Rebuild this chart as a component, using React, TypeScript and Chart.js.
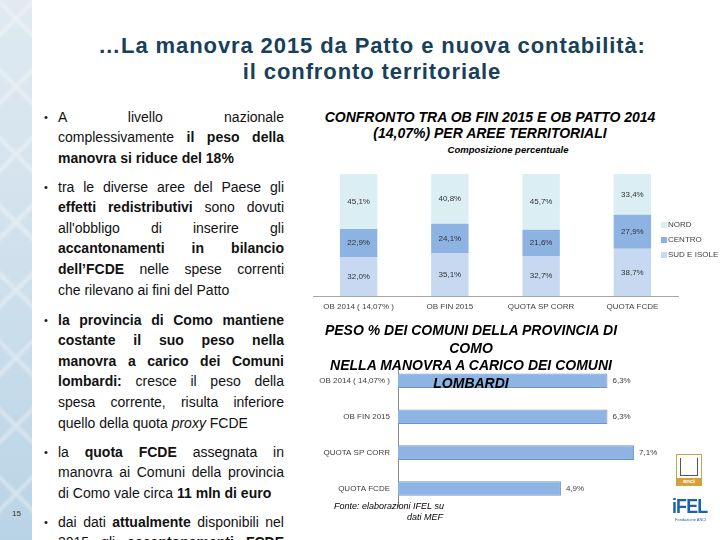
import React, { useEffect, useRef } from "react";
import { Chart, registerables } from "chart.js";

Chart.register(...registerables);

// ---------- data ----------
const areaCategories = ["OB 2014 ( 14,07% )", "OB FIN 2015", "QUOTA SP CORR", "QUOTA FCDE"];
const seriesNames = ["NORD", "CENTRO", "SUD E ISOLE"];
const nordValues = [45.1, 40.8, 45.7, 33.4];
const centroValues = [22.9, 24.1, 21.6, 27.9];
const sudValues = [32.0, 35.1, 32.7, 38.7];

const comoCategories = ["OB 2014 ( 14,07% )", "OB FIN 2015", "QUOTA SP CORR", "QUOTA FCDE"];
const comoValues = [6.3, 6.3, 7.1, 4.9];

const seriesColors = ["#dbeef4", "#8db3e2", "#c6d9f1"];
const FONT = "'Liberation Sans', Arial, sans-serif";

const fmt = (v: number) => v.toFixed(1).replace(".", ",") + "%";

// ---------- plugins ----------
const stackLabels = {
  id: "stackLabels",
  afterDatasetsDraw(chart: any) {
    const ctx = chart.ctx;
    ctx.save();
    ctx.font = "8px " + FONT;
    ctx.fillStyle = "#333333";
    ctx.textAlign = "center";
    ctx.textBaseline = "middle";
    chart.data.datasets.forEach((ds: any, i: number) => {
      const meta = chart.getDatasetMeta(i);
      meta.data.forEach((bar: any, j: number) => {
        const p = bar.getProps(["x", "y", "base"], true);
        ctx.fillText(fmt(ds.data[j]), p.x, (p.y + p.base) / 2);
      });
    });
    ctx.restore();
  },
};

const sideLegend = {
  id: "sideLegend",
  afterDraw(chart: any) {
    const ctx = chart.ctx;
    const area = chart.chartArea;
    const ds = chart.data.datasets.slice().reverse();
    const x0 = area.right - 17;
    const mid = (area.top + area.bottom) / 2 + 5;
    const step = 15;
    ctx.save();
    ctx.font = "8px " + FONT;
    ctx.textBaseline = "middle";
    ctx.textAlign = "left";
    ds.forEach((d: any, i: number) => {
      const y = mid + (i - 1) * step;
      ctx.fillStyle = d.backgroundColor;
      ctx.fillRect(x0, y - 3, 6, 6);
      ctx.fillStyle = "#404040";
      ctx.fillText(d.label, x0 + 7, y);
    });
    ctx.restore();
  },
};

const endLabels = {
  id: "endLabels",
  afterDatasetsDraw(chart: any) {
    const ctx = chart.ctx;
    ctx.save();
    ctx.font = "8px " + FONT;
    ctx.fillStyle = "#404040";
    ctx.textAlign = "left";
    ctx.textBaseline = "middle";
    chart.data.datasets.forEach((ds: any, i: number) => {
      chart.getDatasetMeta(i).data.forEach((bar: any, j: number) => {
        const p = bar.getProps(["x", "y"], true);
        ctx.fillText(fmt(ds.data[j]), p.x + 5, p.y);
      });
    });
    ctx.restore();
  },
};

// ---------- charts ----------
function AreaChart() {
  const ref = useRef<HTMLCanvasElement>(null);
  useEffect(() => {
    const chart = new Chart(ref.current as HTMLCanvasElement, {
      type: "bar",
      data: {
        labels: areaCategories,
        datasets: [
          { label: seriesNames[2], data: sudValues, backgroundColor: seriesColors[2] },
          { label: seriesNames[1], data: centroValues, backgroundColor: seriesColors[1] },
          { label: seriesNames[0], data: nordValues, backgroundColor: seriesColors[0] },
        ],
      },
      options: {
        responsive: false,
        animation: false,
        layout: { padding: { left: 13, right: 42, top: 14, bottom: 0 } },
        datasets: { bar: { categoryPercentage: 1, barPercentage: 0.41 } },
        plugins: { legend: { display: false }, tooltip: { enabled: false } },
        scales: {
          x: {
            stacked: true,
            grid: { display: false, drawTicks: false },
            border: { display: true, color: "#a6a6a6" },
            ticks: { color: "#404040", font: { size: 8, family: FONT }, padding: 6, maxRotation: 0, autoSkip: false },
            afterFit: (s: any) => { s.height = 24; },
          },
          y: { stacked: true, display: false, min: 0, max: 100 },
        },
      },
      plugins: [stackLabels, sideLegend],
    } as any);
    return () => chart.destroy();
  }, []);
  return <canvas ref={ref} width={420} height={160} style={{ position: "absolute", left: 300, top: 160 }} />;
}

function ComoChart() {
  const ref = useRef<HTMLCanvasElement>(null);
  useEffect(() => {
    const chart = new Chart(ref.current as HTMLCanvasElement, {
      type: "bar",
      data: {
        labels: comoCategories,
        datasets: [
          { label: "Como", data: comoValues, backgroundColor: "#8eb4e3", borderColor: "#6f93c4", borderWidth: 1 },
        ],
      },
      options: {
        indexAxis: "y",
        responsive: false,
        animation: false,
        layout: { padding: { left: 0, right: 56, top: 8.5, bottom: 13.5 } },
        datasets: { bar: { categoryPercentage: 1, barPercentage: 0.405 } },
        plugins: { legend: { display: false }, tooltip: { enabled: false } },
        scales: {
          x: { display: false, min: 0, max: 8 },
          y: {
            grid: { display: false, drawTicks: false },
            border: { display: true, color: "#8c8c8c" },
            ticks: { color: "#404040", font: { size: 8, family: FONT }, padding: 8 },
            afterFit: (s: any) => { s.width = 98; },
          },
        },
      },
      plugins: [endLabels],
    } as any);
    return () => chart.destroy();
  }, []);
  return <canvas ref={ref} width={420} height={170} style={{ position: "absolute", left: 300, top: 350 }} />;
}

// ---------- text helpers ----------
const LH = 20.6;
const lineStyle = (last: boolean): React.CSSProperties => ({
  width: 226,
  height: LH,
  lineHeight: LH + "px",
  textAlign: last ? "left" : "justify",
  textAlignLast: last ? "left" : "justify",
  whiteSpace: "nowrap",
});

function Para({ top, lines, justifyAll }: { top: number; lines: React.ReactNode[]; justifyAll?: boolean }) {
  return (
    <div style={{ position: "absolute", left: 0, top: top - LH / 2, fontFamily: FONT, fontSize: 14, color: "#111" }}>
      <div style={{ position: "absolute", left: 44, top: 0, lineHeight: LH + "px", fontSize: 11 }}>•</div>
      <div style={{ position: "absolute", left: 58, top: 0 }}>
        {lines.map((l, i) => (
          <div key={i} style={lineStyle(!justifyAll && i === lines.length - 1)}>{l}</div>
        ))}
      </div>
    </div>
  );
}

export default function App() {
  return (
    <div style={{ position: "fixed", left: 0, top: 0, width: 720, height: 540, background: "#fff", overflow: "hidden", fontFamily: FONT }}>
      {/* left strip */}
      <div style={{ position: "absolute", left: 0, top: 0, width: 32, height: 540, background: "linear-gradient(to bottom, #dfeaf2 0%, #cfe0ec 50%, #b9d3e6 100%)" }} />
      <div style={{ position: "absolute", left: 0, top: 0, width: 32, height: 540, opacity: 0.4, background: "repeating-linear-gradient(45deg, rgba(255,255,255,0) 0px, rgba(255,255,255,0) 40px, rgba(255,255,255,0.9) 44px, rgba(255,255,255,0) 48px), repeating-linear-gradient(-45deg, rgba(255,255,255,0) 0px, rgba(255,255,255,0) 40px, rgba(255,255,255,0.9) 44px, rgba(255,255,255,0) 48px)" }} />
      <div style={{ position: "absolute", left: 12, top: 509, fontSize: 8, color: "#333" }}>15</div>

      {/* title */}
      <div style={{ position: "absolute", left: 32, width: 680, top: 33, textAlign: "center", color: "#17405a", fontWeight: "bold", fontSize: 22, letterSpacing: 0.9, lineHeight: "26px" }}>
        …La manovra 2015 da Patto e nuova contabilità:<br />il confronto territoriale
      </div>

      {/* left text */}
      <Para top={117} lines={[
        <>A livello nazionale</>,
        <>complessivamente <b>il peso della</b></>,
        <><b>manovra si riduce del 18%</b></>,
      ]} />
      <Para top={187} lines={[
        <>tra le diverse aree del Paese gli</>,
        <><b>effetti redistributivi</b> sono dovuti</>,
        <>all'obbligo di inserire gli</>,
        <><b>accantonamenti in bilancio</b></>,
        <><b>dell’FCDE</b> nelle spese correnti</>,
        <>che rilevano ai fini del Patto</>,
      ]} />
      <Para top={320} lines={[
        <><b>la provincia di Como mantiene</b></>,
        <><b>costante il suo peso nella</b></>,
        <><b>manovra a carico dei Comuni</b></>,
        <><b>lombardi:</b> cresce il peso della</>,
        <>spesa corrente, risulta inferiore</>,
        <>quello della quota <i>proxy</i> FCDE</>,
      ]} />
      <Para top={452} lines={[
        <>la <b>quota FCDE</b> assegnata in</>,
        <>manovra ai Comuni della provincia</>,
        <>di Como vale circa <b>11 mln di euro</b></>,
      ]} />
      <Para top={522} justifyAll lines={[
        <>dai dati <b>attualmente</b> disponibili nel</>,
        <>2015 gli <b>accantonamenti FCDE</b></>,
      ]} />

      {/* top chart titles */}
      <div style={{ position: "absolute", left: 290, width: 400, top: 109, textAlign: "center", fontWeight: "bold", fontStyle: "italic", fontSize: 14, lineHeight: "16px", color: "#000" }}>
        CONFRONTO TRA OB FIN 2015 E OB PATTO 2014<br />(14,07%) PER AREE TERRITORIALI
      </div>
      <div style={{ position: "absolute", left: 408, width: 200, top: 144, textAlign: "center", fontWeight: "bold", fontStyle: "italic", fontSize: 9.5, color: "#000" }}>
        Composizione percentuale
      </div>

      <AreaChart />
      <ComoChart />

      {/* bottom chart title (overlapping) */}
      <div style={{ position: "absolute", left: 281, width: 380, top: 322, textAlign: "center", fontWeight: "bold", fontStyle: "italic", fontSize: 14, lineHeight: "17.7px", color: "#000", zIndex: 2 }}>
        PESO % DEI COMUNI DELLA PROVINCIA DI<br />COMO<br />NELLA MANOVRA A CARICO DEI COMUNI<br />LOMBARDI
      </div>

      {/* source */}
      <div style={{ position: "absolute", left: 334, top: 501, fontStyle: "italic", fontSize: 9, color: "#000" }}>Fonte: elaborazioni IFEL su</div>
      <div style={{ position: "absolute", left: 407, top: 512, fontStyle: "italic", fontSize: 9, color: "#000" }}>dati MEF</div>

      {/* logos */}
      <div style={{ position: "absolute", left: 676, top: 454, width: 24, height: 30, border: "1px solid #c9a44a", background: "#fff" }}>
        <div style={{ position: "absolute", left: 3, top: 3, width: 16, height: 17, border: "1px solid #555", borderTop: "none" }} />
        <div style={{ position: "absolute", left: 0, bottom: 0, width: 24, height: 7, background: "#d9a03a", color: "#fff", fontSize: 6, fontWeight: "bold", textAlign: "center", lineHeight: "7px" }}>anci</div>
      </div>
      <div style={{ position: "absolute", left: 672, top: 494, fontSize: 21, fontWeight: "bold", color: "#1b63ad", letterSpacing: -1, transform: "scaleX(0.85)", transformOrigin: "left" }}>iFEL</div>
      <div style={{ position: "absolute", left: 675, top: 517, fontSize: 4, color: "#1b63ad" }}>Fondazione ANCI</div>
    </div>
  );
}
